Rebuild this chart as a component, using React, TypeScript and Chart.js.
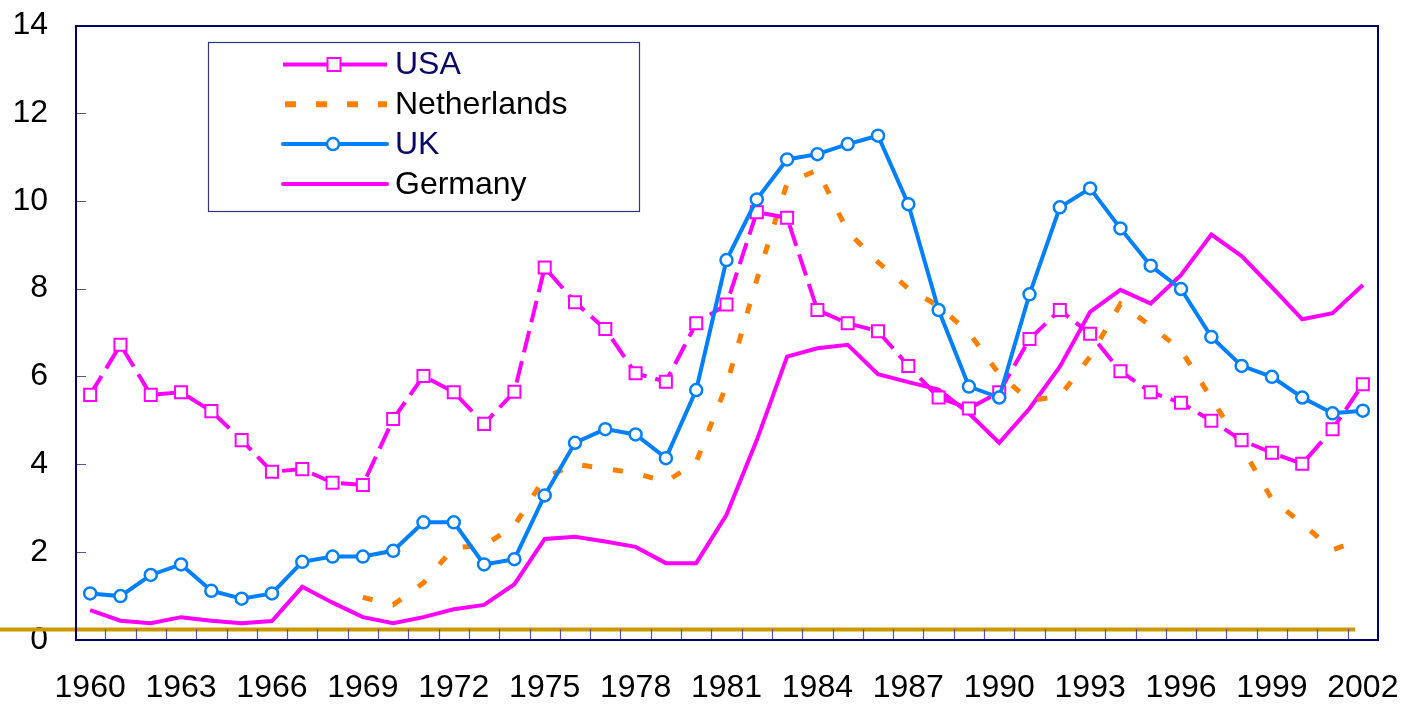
import React, { useEffect, useRef } from 'react';
import { Chart, registerables } from 'chart.js';

Chart.register(...registerables);

const years = [
  '1960', '1961', '1962', '1963', '1964', '1965', '1966', '1967', '1968', '1969',
  '1970', '1971', '1972', '1973', '1974', '1975', '1976', '1977', '1978', '1979',
  '1980', '1981', '1982', '1983', '1984', '1985', '1986', '1987', '1988', '1989',
  '1990', '1991', '1992', '1993', '1994', '1995', '1996', '1997', '1998', '1999',
  '2000', '2001', '2002',
];

const usa = [
  5.58, 6.72, 5.58, 5.64, 5.21, 4.55, 3.83, 3.89, 3.58, 3.53,
  5.03, 6.01, 5.64, 4.92, 5.65, 8.48, 7.69, 7.08, 6.07, 5.88,
  7.21, 7.64, 9.74, 9.61, 7.51, 7.21, 7.03, 6.24, 5.52, 5.27,
  5.64, 6.85, 7.51, 6.97, 6.12, 5.64, 5.40, 4.99, 4.55, 4.26,
  4.01, 4.80, 5.82,
];

const netherlands = [
  null, null, null, null, null, null, null, null, null, 0.97,
  0.8, 1.3, 2.1, 2.15, 2.6, 3.7, 4.0, 3.9, 3.8, 3.6,
  4.05, 5.8, 8.2, 10.4, 10.7, 9.3, 8.6, 8.0, 7.6, 7.0,
  6.05, 5.45, 5.55, 6.45, 7.65, 7.15, 6.6, 5.5, 4.4, 3.2,
  2.65, 2.05, 2.3,
];

const uk = [
  1.06, 1.0, 1.48, 1.72, 1.12, 0.94, 1.06, 1.78, 1.9, 1.9,
  2.03, 2.68, 2.68, 1.72, 1.84, 3.29, 4.49, 4.8, 4.68, 4.14,
  5.69, 8.65, 10.03, 10.94, 11.06, 11.29, 11.48, 9.92, 7.51, 5.77,
  5.52, 7.87, 9.85, 10.28, 9.37, 8.52, 7.99, 6.9, 6.24, 5.99,
  5.52, 5.16, 5.22,
];

const germany = [
  0.68, 0.44, 0.38, 0.52, 0.44, 0.38, 0.43, 1.21, 0.85, 0.52,
  0.38, 0.52, 0.7, 0.8, 1.27, 2.3, 2.35, 2.24, 2.12, 1.75,
  1.75, 2.85, 4.55, 6.45, 6.64, 6.72, 6.05, 5.87, 5.7, 5.16,
  4.49, 5.27, 6.22, 7.47, 7.97, 7.66, 8.31, 9.23, 8.74, 8.03,
  7.3, 7.44, 8.08,
];

const yTickValues = [0, 2, 4, 6, 8, 10, 12, 14];
const baselineValue = 0.24;

const MAGENTA = '#FF00FF';
const ORANGE = '#FF8000';
const BLUE = '#0080FF';
const NAVY = '#000066';
const GOLD = '#CC9900';
const FONT = '"Liberation Sans", Arial, sans-serif';

const legendItems = [
  { label: 'USA', kind: 'usa', textColor: '#0A0A66' },
  { label: 'Netherlands', kind: 'nl', textColor: '#000000' },
  { label: 'UK', kind: 'uk', textColor: '#0A0A66' },
  { label: 'Germany', kind: 'de', textColor: '#000000' },
];

const framePlugin = {
  id: 'framePlugin',
  beforeDatasetsDraw(chart: any) {
    const { ctx, chartArea: a, scales } = chart;
    const x = scales.x;
    const y = scales.y;
    const step = x.getPixelForValue(1) - x.getPixelForValue(0);
    ctx.save();
    // golden reference line
    const yy = y.getPixelForValue(baselineValue);
    ctx.strokeStyle = GOLD;
    ctx.lineWidth = 4;
    ctx.beginPath();
    ctx.moveTo(0, yy);
    ctx.lineTo(x.getPixelForValue(years.length - 1) - step * 0.25, yy);
    ctx.stroke();
    // inner tick marks
    ctx.strokeStyle = '#555599';
    ctx.lineWidth = 1.2;
    ctx.beginPath();
    for (let i = 1; i < years.length; i++) {
      const px = Math.round((x.getPixelForValue(i - 1) + x.getPixelForValue(i)) / 2) + 0.5;
      ctx.moveTo(px, a.bottom);
      ctx.lineTo(px, a.bottom - 11);
    }
    yTickValues.forEach((v) => {
      if (v === 0 || v === 14) return;
      const py = Math.round(y.getPixelForValue(v)) + 0.5;
      ctx.moveTo(a.left, py);
      ctx.lineTo(a.left + 11, py);
    });
    ctx.stroke();
    ctx.restore();
  },
  afterDatasetsDraw(chart: any) {
    const { ctx, chartArea: a } = chart;
    ctx.save();
    ctx.strokeStyle = NAVY;
    ctx.lineWidth = 2;
    ctx.strokeRect(a.left + 1, a.top + 1, a.right - a.left - 1, a.bottom - a.top - 1);

    // legend box
    const bx = 208, by = 42, bw = 431, bh = 169;
    ctx.fillStyle = '#FFFFFF';
    ctx.fillRect(bx, by, bw, bh);
    ctx.strokeStyle = '#333388';
    ctx.lineWidth = 1.2;
    ctx.strokeRect(bx + 0.5, by + 0.5, bw, bh);

    const rowY0 = 64.5;
    const rowGap = 39.8;
    const x0 = 283, x1 = 387;
    const mid = 334;
    legendItems.forEach((it, i) => {
      const ry = rowY0 + i * rowGap;
      ctx.lineCap = 'butt';
      if (it.kind === 'nl') {
        ctx.strokeStyle = ORANGE;
        ctx.lineWidth = 6;
        ctx.setLineDash([11, 20]);
        ctx.beginPath();
        ctx.moveTo(x0 + 2, ry);
        ctx.lineTo(x1, ry);
        ctx.stroke();
        ctx.setLineDash([]);
      } else {
        ctx.strokeStyle = it.kind === 'uk' ? BLUE : MAGENTA;
        ctx.lineWidth = 4;
        ctx.lineCap = it.kind === 'usa' ? 'butt' : 'round';
        ctx.beginPath();
        ctx.moveTo(x0, ry);
        ctx.lineTo(x1, ry);
        ctx.stroke();
      }
      if (it.kind === 'usa') {
        ctx.fillStyle = '#FFFFFF';
        ctx.strokeStyle = MAGENTA;
        ctx.lineWidth = 2;
        ctx.fillRect(mid - 6.5, ry - 6.5, 13, 13);
        ctx.strokeRect(mid - 6.5, ry - 6.5, 13, 13);
      }
      if (it.kind === 'uk') {
        ctx.fillStyle = '#FFFFFF';
        ctx.strokeStyle = BLUE;
        ctx.lineWidth = 2.5;
        ctx.beginPath();
        ctx.arc(mid - 1, ry, 6, 0, Math.PI * 2);
        ctx.fill();
        ctx.stroke();
      }
      ctx.fillStyle = it.textColor;
      ctx.font = `32px ${FONT}`;
      ctx.textAlign = 'left';
      ctx.textBaseline = 'middle';
      ctx.fillText(it.label, 395, ry + 1);
    });
    ctx.restore();
  },
};

export default function App() {
  const canvasRef = useRef<HTMLCanvasElement | null>(null);

  useEffect(() => {
    if (!canvasRef.current) return;
    Chart.defaults.font.family = FONT;
    const chart = new Chart(canvasRef.current, {
      type: 'line',
      data: {
        labels: years,
        datasets: [
          {
            label: 'USA',
            data: usa,
            order: 1,
            borderColor: MAGENTA,
            borderWidth: 4,
            borderDash: [22, 9],
            pointStyle: 'rect',
            pointRadius: 8.5,
            pointBorderWidth: 2,
            pointBackgroundColor: '#FFFFFF',
            pointBorderColor: MAGENTA,
            tension: 0,
          },
          {
            label: 'Netherlands',
            data: netherlands,
            order: 2,
            borderColor: ORANGE,
            borderWidth: 5,
            borderDash: [10, 21],
            borderCapStyle: 'butt',
            pointRadius: 0,
            spanGaps: false,
            tension: 0,
          },
          {
            label: 'UK',
            data: uk,
            order: 0,
            borderColor: BLUE,
            borderWidth: 4,
            pointStyle: 'circle',
            pointRadius: 6,
            pointBorderWidth: 2.5,
            pointBackgroundColor: '#FFFFFF',
            pointBorderColor: BLUE,
            tension: 0,
          },
          {
            label: 'Germany',
            data: germany,
            order: 3,
            borderColor: MAGENTA,
            borderWidth: 4,
            pointRadius: 0,
            tension: 0,
          },
        ],
      },
      options: {
        animation: false,
        responsive: true,
        maintainAspectRatio: false,
        layout: { padding: { top: 25, right: 25, left: 0, bottom: 0 } },
        plugins: {
          legend: { display: false },
          tooltip: { enabled: false },
        },
        scales: {
          x: {
            type: 'category',
            offset: true,
            grid: { display: false, drawTicks: false, offset: true },
            border: { display: false },
            ticks: {
              autoSkip: false,
              maxRotation: 0,
              minRotation: 0,
              padding: 29,
              color: '#000000',
              font: { size: 32, family: FONT },
              callback: (_v: any, i: number) => (i % 3 === 0 ? years[i] : ''),
            },
            afterFit: (s: any) => {
              s.height = 64;
              s.paddingLeft = 0;
              s.paddingRight = 0;
            },
          },
          y: {
            min: 0,
            max: 14,
            grid: { display: false, drawTicks: false },
            border: { display: false },
            afterBuildTicks: (s: any) => {
              s.ticks = yTickValues.map((v) => ({ value: v }));
            },
            ticks: {
              padding: 27,
              color: '#000000',
              font: { size: 32, family: FONT },
            },
            afterFit: (s: any) => {
              s.width = 75;
              s.paddingTop = 0;
              s.paddingBottom = 0;
            },
          },
        },
      },
      plugins: [framePlugin],
    });
    return () => chart.destroy();
  }, []);

  return (
    <div style={{ position: 'fixed', left: 0, top: 0, width: 1403, height: 704, background: '#FFFFFF' }}>
      <canvas ref={canvasRef} />
    </div>
  );
}
